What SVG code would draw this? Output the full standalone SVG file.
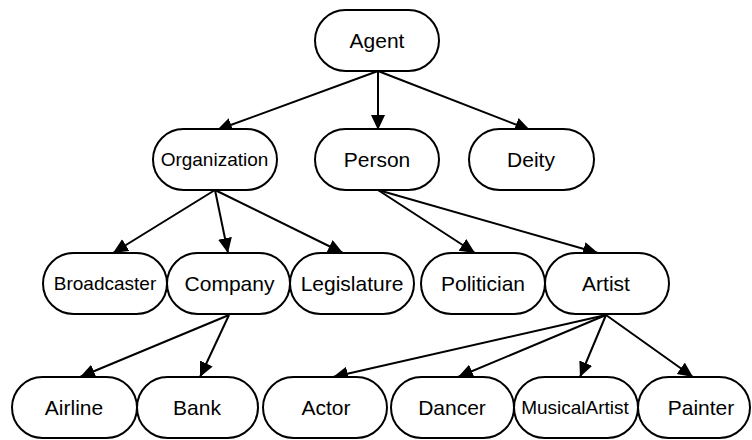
<svg xmlns="http://www.w3.org/2000/svg" width="752" height="440" viewBox="0 0 752 440">
<style>
.n rect{fill:#fff;stroke:#000;stroke-width:2}
.n text{font-family:"Liberation Sans",Arial,sans-serif;font-size:21px;text-anchor:middle;fill:#000}
.n text.s{font-size:19px}
.e line{stroke:#000;stroke-width:2;marker-end:url(#ah)}
</style>
<defs>
<marker id="ah" markerUnits="userSpaceOnUse" markerWidth="16" markerHeight="15" refX="15" refY="7" orient="auto" viewBox="0 0 16 15">
<path d="M0,0 L15,7 L0,14 z" fill="#000"/>
</marker>
</defs>
<g id="connectors" class="e">
<line x1="378" y1="71" x2="217" y2="130"/>
<line x1="378" y1="71" x2="378" y2="130"/>
<line x1="378" y1="71" x2="530" y2="130"/>
<line x1="215" y1="190" x2="113" y2="253"/>
<line x1="215" y1="190" x2="228" y2="253"/>
<line x1="215" y1="190" x2="343" y2="253"/>
<line x1="378" y1="190" x2="475" y2="253"/>
<line x1="378" y1="190" x2="598" y2="253"/>
<line x1="229" y1="315" x2="80" y2="377"/>
<line x1="229" y1="315" x2="200" y2="377"/>
<line x1="606" y1="315" x2="333" y2="377"/>
<line x1="606" y1="315" x2="458" y2="377"/>
<line x1="606" y1="315" x2="580" y2="377"/>
<line x1="606" y1="315" x2="693" y2="377"/>
</g>
<g id="Agent" class="n"><rect x="315" y="10" width="124" height="61" rx="30.5"/><text x="377" y="48">Agent</text></g>
<g id="Organization" class="n"><rect x="153" y="129" width="124" height="61" rx="30.5"/><text class="s" x="214.5" y="166">Organization</text></g>
<g id="Person" class="n"><rect x="315" y="129" width="124" height="61" rx="30.5"/><text x="377" y="167">Person</text></g>
<g id="Deity" class="n"><rect x="469" y="129" width="125" height="61" rx="30.5"/><text x="531" y="167">Deity</text></g>
<g id="Broadcaster" class="n"><rect x="43" y="253" width="124" height="61" rx="30.5"/><text class="s" x="105" y="290">Broadcaster</text></g>
<g id="Company" class="n"><rect x="167" y="253" width="123" height="61" rx="30.5"/><text x="229.5" y="291">Company</text></g>
<g id="Legislature" class="n"><rect x="290" y="253" width="124" height="61" rx="30.5"/><text x="352" y="291">Legislature</text></g>
<g id="Politician" class="n"><rect x="421" y="253" width="124" height="61" rx="30.5"/><text x="483" y="291">Politician</text></g>
<g id="Artist" class="n"><rect x="545" y="253" width="124" height="61" rx="30.5"/><text x="606" y="291">Artist</text></g>
<g id="Airline" class="n"><rect x="12" y="377" width="125" height="61" rx="30.5"/><text x="74" y="415">Airline</text></g>
<g id="Bank" class="n"><rect x="137" y="377" width="121" height="61" rx="30.5"/><text x="197" y="415">Bank</text></g>
<g id="Actor" class="n"><rect x="263" y="377" width="124" height="61" rx="30.5"/><text x="326" y="415">Actor</text></g>
<g id="Dancer" class="n"><rect x="391" y="377" width="123" height="61" rx="30.5"/><text x="452" y="415">Dancer</text></g>
<g id="MusicalArtist" class="n"><rect x="514" y="377" width="124" height="61" rx="30.5"/><text class="s" x="575" y="414">MusicalArtist</text></g>
<g id="Painter" class="n"><rect x="638" y="377" width="112" height="61" rx="30.5"/><text x="701" y="415">Painter</text></g>
</svg>
